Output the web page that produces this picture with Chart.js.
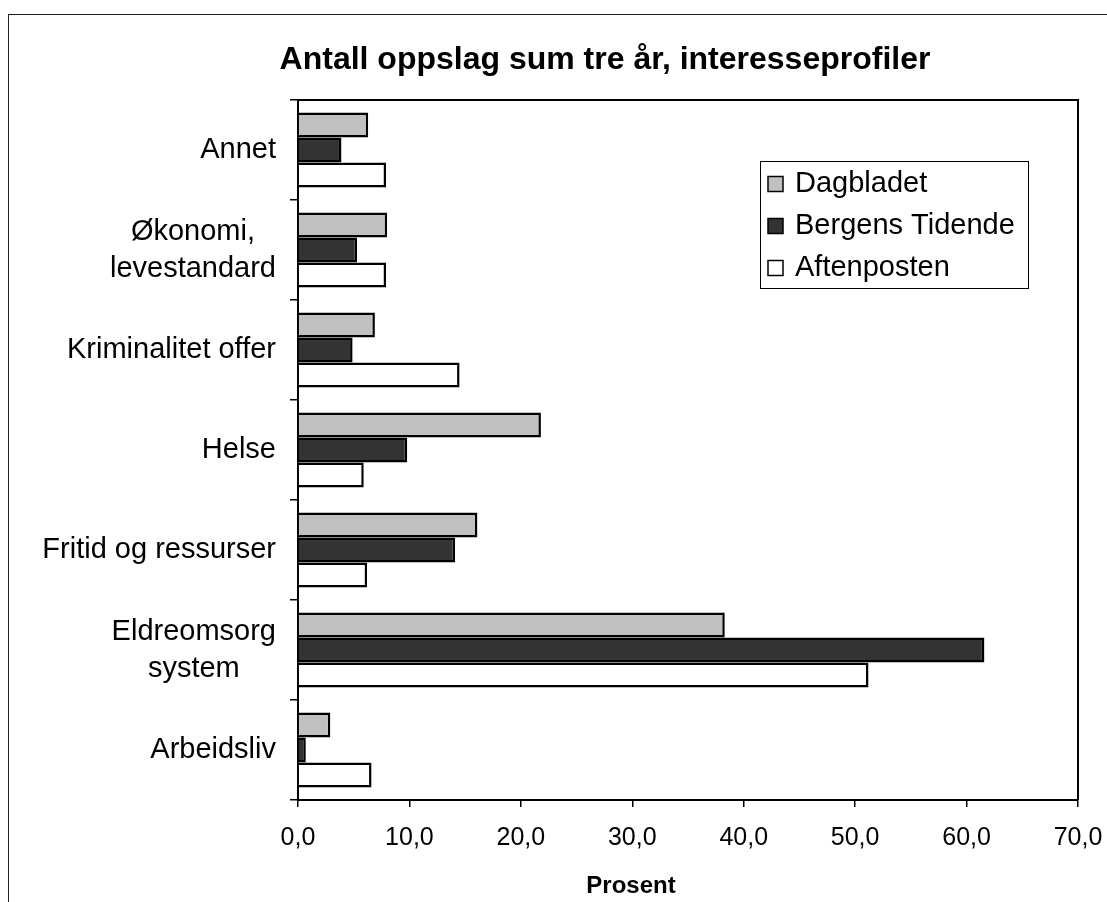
<!DOCTYPE html>
<html><head><meta charset="utf-8">
<script src="https://cdn.jsdelivr.net/npm/chart.js@4/dist/chart.umd.min.js"></script>
<style>
html,body{margin:0;padding:0;background:#fff;overflow:hidden;width:1107px;height:902px;}
#frame{position:absolute;left:8px;top:14px;width:1300px;height:1000px;border:1.5px solid #222;box-sizing:border-box;}
#wrap{position:absolute;left:0;top:0;width:1107px;height:902px;}
</style></head><body>
<div id="frame"></div>
<div id="wrap"><canvas id="c" width="1107" height="902"></canvas></div>
<script>
const categories = [["Annet"], ["Økonomi,", "levestandard"], ["Kriminalitet offer"], ["Helse"], ["Fritid og ressurser"], ["Eldreomsorg", "system"], ["Arbeidsliv"]];
const seriesNames = ["Dagbladet", "Bergens Tidende", "Aftenposten"];
const dagbladet      = [6.3, 8.0, 6.9, 21.8, 16.1, 38.3, 2.9];
const bergensTidende = [3.9, 5.3, 4.9, 9.8, 14.1, 61.6, 0.7];
const aftenposten    = [7.9, 7.9, 14.5, 5.9, 6.2, 51.2, 6.6];
const xMin = 0, xMax = 70, xStep = 10;
const chartTitle = "Antall oppslag sum tre år, interesseprofiler";
const xTitle = "Prosent";

const FONT = '"Liberation Sans", Arial, sans-serif';
const colors = ['#c0c0c0', '#333333', '#ffffff'];

const deco = {
  id: 'deco',
  afterDraw(chart) {
    const ctx = chart.ctx, a = chart.chartArea, ys = chart.scales.y;
    ctx.save();
    // plot frame top/right
    ctx.strokeStyle = '#000'; ctx.lineWidth = 2;
    ctx.beginPath(); ctx.moveTo(a.left - 1, a.top); ctx.lineTo(a.right, a.top); ctx.lineTo(a.right, a.bottom); ctx.stroke();
    // category labels
    ctx.font = '29px ' + FONT; ctx.fillStyle = '#000'; ctx.textAlign = 'center'; ctx.textBaseline = 'middle';
    chart.data.labels.forEach((lab, i) => {
      const lines = Array.isArray(lab) ? lab : [lab];
      const w = Math.max(...lines.map(l => ctx.measureText(l).width));
      const cx = 276 - w / 2;
      const cy = ys.getPixelForValue(i);
      const lh = 37;
      lines.forEach((l, k) => ctx.fillText(l, cx, cy + (k - (lines.length - 1) / 2) * lh));
    });
    // title
    ctx.font = 'bold 32px ' + FONT;
    ctx.fillText(chartTitle, 605, 60);
    // x title
    ctx.font = 'bold 24px ' + FONT;
    ctx.fillText(xTitle, 631, 886);
    // legend
    const lx = 760, ly = 161, lw = 268, lhgt = 127;
    ctx.fillStyle = '#fff'; ctx.fillRect(lx, ly, lw, lhgt);
    ctx.strokeStyle = '#000'; ctx.lineWidth = 1;
    ctx.strokeRect(lx + 0.5, ly + 0.5, lw, lhgt);
    ctx.font = '29px ' + FONT; ctx.textAlign = 'left';
    chart.data.datasets.forEach((ds, i) => {
      const cy = 184 + i * 42;
      ctx.fillStyle = ds.backgroundColor;
      ctx.fillRect(768, cy - 7.5, 15, 15);
      ctx.lineWidth = 1.5; ctx.strokeStyle = '#000';
      ctx.strokeRect(768, cy - 7.5, 15, 15);
      ctx.fillStyle = '#000';
      ctx.fillText(ds.label, 795, cy);
    });
    ctx.restore();
  }
};

new Chart(document.getElementById('c'), {
  type: 'bar',
  data: {
    labels: categories,
    datasets: [
      { label: seriesNames[0], data: dagbladet, backgroundColor: colors[0] },
      { label: seriesNames[1], data: bergensTidende, backgroundColor: colors[1] },
      { label: seriesNames[2], data: aftenposten, backgroundColor: colors[2] }
    ].map(d => Object.assign(d, { borderColor: '#000', borderWidth: 2.5, borderSkipped: 'start', categoryPercentage: 0.75, barPercentage: 1.0 }))
  },
  options: {
    indexAxis: 'y',
    responsive: false,
    animation: false,
    layout: { padding: { left: 0, top: 100, right: 29, bottom: 0 } },
    plugins: { legend: { display: false }, title: { display: false }, tooltip: { enabled: false } },
    scales: {
      y: {
        type: 'category',
        offset: true,
        grid: { offset: true, drawOnChartArea: false, drawTicks: true, tickLength: 8, color: '#000', lineWidth: 1.5 },
        border: { color: '#000', width: 2 },
        ticks: { display: false },
        afterFit(s) { s.width = 298; s.paddingTop = 0; s.paddingBottom = 0; }
      },
      x: {
        min: xMin, max: xMax,
        grid: { drawOnChartArea: false, drawTicks: true, tickLength: 7, color: '#000', lineWidth: 1.5 },
        border: { color: '#000', width: 2 },
        ticks: { stepSize: xStep, color: '#000', font: { family: FONT, size: 25 }, padding: 16, maxRotation: 0,
          callback: v => v.toFixed(1).replace('.', ',') },
        afterFit(s) { s.height = 102; s.paddingLeft = 0; s.paddingRight = 0; }
      }
    }
  },
  plugins: [deco]
});
</script>
</body></html>
